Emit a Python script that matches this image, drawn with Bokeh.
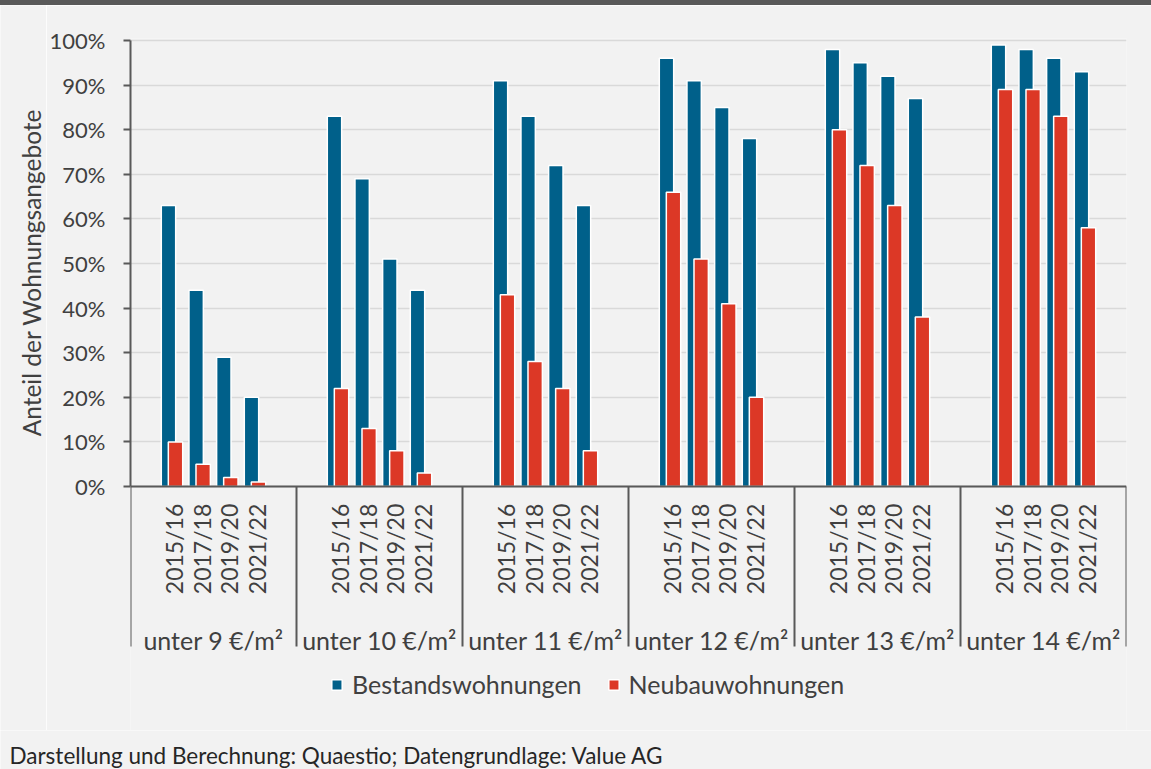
import math
from bokeh.plotting import figure
from bokeh.layouts import column, row
from bokeh.models import Range1d, FixedTicker, PrintfTickFormatter, ColumnDataSource, Div
from bokeh.core.properties import value
from bokeh.embed import file_html
from bokeh.resources import INLINE

# ---- data ----
groups = ["unter 9 €/m²", "unter 10 €/m²", "unter 11 €/m²", "unter 12 €/m²", "unter 13 €/m²", "unter 14 €/m²"]
years = ["2015/16", "2017/18", "2019/20", "2021/22"]
bestand = [63, 44, 29, 20,
           83, 69, 51, 44,
           91, 83, 72, 63,
           96, 91, 85, 78,
           98, 95, 92, 87,
           99, 98, 96, 93]
neubau = [10, 5, 2, 1,
          22, 13, 8, 3,
          43, 28, 22, 8,
          66, 51, 41, 20,
          80, 72, 63, 38,
          89, 89, 83, 58]
y_ticks = [0, 10, 20, 30, 40, 50, 60, 70, 80, 90, 100]
series_names = ["Bestandswohnungen", "Neubauwohnungen"]
y_title = "Anteil der Wohnungsangebote"
source_note = "Darstellung und Berechnung: Quaestio; Datengrundlage: Value AG"

# ---- style ----
FONT = "Lato"
TXT = "#404040"
AXC = "#595959"
BLUE = "#00608a"
RED = "#dc3826"
BG = "#f2f2f2"
TICK_SIZE = "22px"
NUM_SIZE = "23px"
WORD_SIZE = "25px"

W = 1151
TOP_H = 5
MAIN_H = 725
FOOT_H = 769 - TOP_H - MAIN_H
TITLE_W = 46

BL, BR, BT = 130 - TITLE_W, 25, 33
Y0_PX = 481          # main-figure pixel of 0 %
PX_PER = 4.46        # pixels per percent
y_end = 100 + 2 / PX_PER
y_start = -(MAIN_H - Y0_PX) / PX_PER
sep_bottom = -160 / PX_PER

n_years = len(years)
slots = n_years + 2
n_groups = len(groups)
x_max = n_groups * slots

xc = [g * slots + (slots - n_years) / 2 + 0.5 + k for g in range(n_groups) for k in range(n_years)]
off = 0.127
src = ColumnDataSource(dict(
    xb=[x - off for x in xc],
    xn=[x + off for x in xc],
    bestand=bestand,
    neubau=neubau,
))

# ---- top band ----
band = Div(text="", width=W, height=TOP_H, margin=0,
           styles={"background-color": "#595959"})

# ---- y title panel ----
tfig = figure(width=TITLE_W, height=MAIN_H, x_range=Range1d(0, TITLE_W), y_range=Range1d(0, MAIN_H),
              title=None, output_backend="svg", toolbar_location=None,
              x_axis_location=None, y_axis_location=None, frame_align=False,
              min_border=0, min_border_left=0, min_border_right=0, min_border_top=0, min_border_bottom=0,
              background_fill_color=BG, border_fill_color=BG, outline_line_color=None)
tfig.xgrid.visible = False
tfig.ygrid.visible = False
tfig.text(x=[31], y=[MAIN_H - 267], text=[y_title], angle=math.pi / 2,
          text_align="center", text_baseline="middle",
          text_font=value(FONT), text_font_size="24.5px", text_color=TXT)

# ---- main chart ----
p = figure(width=W - TITLE_W, height=MAIN_H,
           x_range=Range1d(0, x_max), y_range=Range1d(y_start, y_end),
           title=None, output_backend="svg", toolbar_location=None, x_axis_location=None,
           frame_align=False,
           min_border_left=BL, min_border_right=BR, min_border_top=BT, min_border_bottom=0,
           background_fill_color=BG, border_fill_color=BG, outline_line_color=None)
p.xgrid.visible = False

yax = p.yaxis[0]
yax.ticker = FixedTicker(ticks=y_ticks)
yax.formatter = PrintfTickFormatter(format="%d%%")
yax.bounds = (0, 100)
yax.axis_line_color = AXC
yax.axis_line_width = 2
yax.major_tick_line_color = AXC
yax.major_tick_line_width = 2
yax.major_tick_out = 7
yax.major_tick_in = 0
yax.minor_tick_line_color = None
yax.major_label_standoff = 18
yax.major_label_text_font = FONT
yax.major_label_text_font_size = TICK_SIZE
yax.major_label_text_color = TXT

p.ygrid.grid_line_color = "#d9d9d9"
p.ygrid.grid_line_width = 1.5

p.vbar(x="xb", top="bestand", bottom=0, width=0.52, source=src,
       fill_color=BLUE, line_color="white", line_width=1.5, legend_label=series_names[0])
p.vbar(x="xn", top="neubau", bottom=0, width=0.52, source=src,
       fill_color=RED, line_color="white", line_width=1.5, legend_label=series_names[1])

seps = [g * slots for g in range(n_groups + 1)]
p.segment(x0=[0], y0=[0], x1=[x_max], y1=[0], line_color=AXC, line_width=2)
p.segment(x0=seps, y0=[0] * len(seps), x1=seps, y1=[sep_bottom] * len(seps),
          line_color=AXC, line_width=2)

p.text(x=[x + 0.07 for x in xc], y=[-14.0] * len(xc), text=years * n_groups,
       angle=math.pi / 2, text_align="center", text_baseline="middle",
       text_font=value(FONT), text_font_size=NUM_SIZE, text_color=TXT)
gc = [g * slots + slots / 2 for g in range(n_groups)]
p.text(x=gc, y=[-153 / PX_PER] * n_groups, text=groups,
       text_align="center", text_baseline="alphabetic",
       text_font=value(FONT), text_font_size=WORD_SIZE, text_color=TXT)

leg = p.legend[0]
leg.location = (200, 31)
leg.orientation = "horizontal"
leg.background_fill_alpha = 0
leg.border_line_color = None
leg.margin = 0
leg.padding = 0
leg.spacing = 25
leg.glyph_width = 13
leg.glyph_height = 13
leg.label_standoff = 9
leg.label_text_font = FONT
leg.label_text_font_size = WORD_SIZE
leg.label_text_color = TXT

# ---- footer ----
foot = figure(width=W, height=FOOT_H, x_range=Range1d(0, W), y_range=Range1d(0, FOOT_H),
              title=None, output_backend="svg", toolbar_location=None,
              x_axis_location=None, y_axis_location=None, frame_align=False,
              min_border=0, min_border_left=0, min_border_right=0, min_border_top=0, min_border_bottom=0,
              background_fill_color=BG, border_fill_color=BG, outline_line_color=None)
foot.xgrid.visible = False
foot.ygrid.visible = False
foot.text(x=[9], y=[14], text=[source_note], text_align="left", text_baseline="alphabetic",
          text_font=value(FONT), text_font_size="22.5px", text_color="#262626")

layout = column(band, row(tfig, p, spacing=0), foot, spacing=0)
open("out.html", "w").write(file_html(layout, INLINE))
